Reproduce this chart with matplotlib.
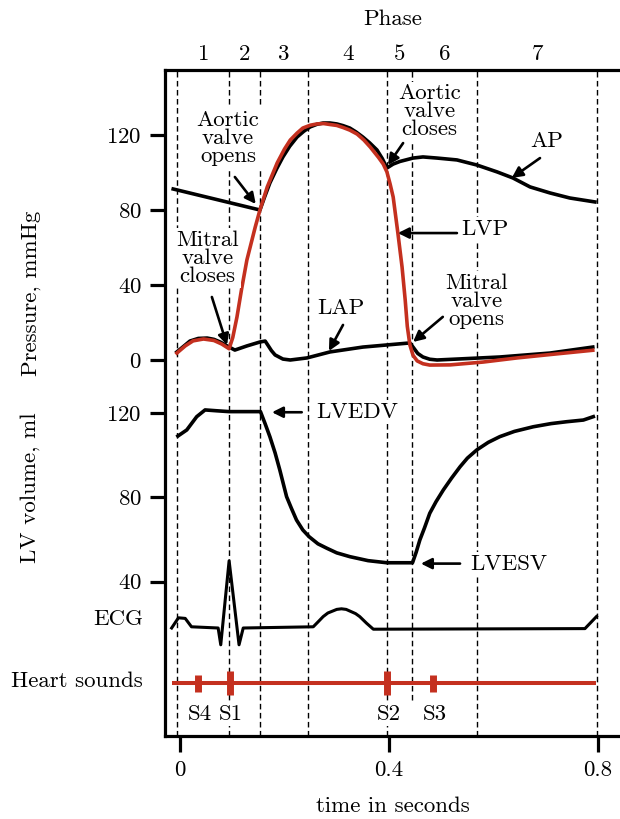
import matplotlib.pyplot as plt

plt.rcParams['font.family'] = 'cmr10'
plt.rcParams['mathtext.fontset'] = 'cm'
plt.rcParams['axes.formatter.use_mathtext'] = True
plt.rcParams['font.size'] = 16.5

# ---- data ----
phase_bounds = [-0.005, 0.094, 0.154, 0.245, 0.397, 0.444, 0.568, 0.799]
phase_labels = ['1', '2', '3', '4', '5', '6', '7']

# aortic pressure (mmHg)
ap_t = [-0.013, 0.153, 0.162, 0.172, 0.185, 0.197, 0.210, 0.224, 0.237, 0.249,
        0.262, 0.274, 0.287, 0.300, 0.312, 0.325, 0.337, 0.350, 0.363, 0.377,
        0.387, 0.396, 0.408, 0.421, 0.446, 0.465, 0.492, 0.530, 0.568, 0.607,
        0.637, 0.670, 0.708, 0.746, 0.794]
ap_p = [91.2, 80.0, 87.0, 94.4, 102.0, 108.3, 114.0, 118.9, 122.0, 124.3,
        125.7, 126.4, 126.4, 125.9, 125.0, 123.7, 121.6, 118.9, 115.8, 112.0,
        107.5, 102.4, 104.5, 105.9, 107.7, 108.3, 107.7, 106.7, 104.0, 100.3,
        97.1, 92.3, 89.1, 86.4, 84.3]

# left ventricular pressure (mmHg)
lvp_t = [-0.006, 0.010, 0.025, 0.045, 0.065, 0.080, 0.094, 0.101, 0.109, 0.118,
         0.128, 0.144, 0.153, 0.167, 0.186, 0.200, 0.211, 0.224, 0.235, 0.249,
         0.262, 0.275, 0.287, 0.300, 0.312, 0.325, 0.339, 0.352, 0.364, 0.380,
         0.389, 0.396, 0.402, 0.408, 0.417, 0.425, 0.431, 0.435, 0.440, 0.446,
         0.454, 0.465, 0.478, 0.517, 0.580, 0.645, 0.708, 0.790]
lvp_p = [3.7, 7.5, 10.2, 11.2, 10.4, 8.5, 6.0, 12.0, 22.9, 38.0,
         53.3, 70.9, 80.0, 92.3, 105.1, 112.5, 117.3, 121.0, 123.7, 125.2,
         125.9, 126.1, 125.6, 125.1, 124.0, 122.6, 120.5, 117.3, 113.6, 108.0,
         104.5, 100.3, 94.0, 86.9, 67.7, 49.6, 32.0, 18.0, 8.0, 2.5,
         -0.5, -2.0, -2.7, -2.6, -1.1, 1.1, 2.9, 5.2]

# left atrial pressure (mmHg)
lap_t = [-0.006, 0.010, 0.019, 0.035, 0.052, 0.065, 0.077, 0.094, 0.105, 0.128,
         0.153, 0.163, 0.168, 0.175, 0.182, 0.197, 0.211, 0.243, 0.287, 0.350,
         0.440, 0.446, 0.455, 0.465, 0.478, 0.492, 0.530, 0.612, 0.708, 0.790]
lap_p = [4.3, 8.0, 10.1, 11.5, 11.7, 11.0, 9.6, 6.9, 5.3, 7.5,
         9.6, 10.1, 8.0, 5.0, 2.7, 0.5, 0.0, 1.1, 4.3, 6.9,
         9.1, 6.9, 3.5, 1.6, 0.4, 0.0, 0.5, 1.6, 3.7, 6.9]

# LV volume (ml)
vol_t = [-0.004, 0.013, 0.032, 0.048, 0.070, 0.094, 0.154, 0.163, 0.172, 0.182,
         0.191, 0.204, 0.213, 0.223, 0.235, 0.247, 0.264, 0.281, 0.300, 0.325,
         0.360, 0.396, 0.445, 0.452, 0.459, 0.468, 0.478, 0.490, 0.504, 0.520,
         0.536, 0.550, 0.568, 0.590, 0.612, 0.640, 0.676, 0.710, 0.740, 0.772,
         0.791]
vol_v = [109.2, 112.1, 118.4, 121.6, 121.2, 120.8, 120.8, 115.0, 108.9, 101.2,
         93.1, 80.4, 75.0, 69.3, 64.6, 61.4, 58.0, 55.9, 53.7, 51.9,
         50.0, 49.0, 49.0, 54.0, 59.8, 65.6, 72.5, 78.0, 83.6, 89.3,
         94.6, 98.7, 102.6, 106.2, 108.9, 111.4, 113.6, 115.1, 116.0, 116.8,
         118.4]

# ECG (arbitrary units)
ecg_t = [-0.016, -0.003, 0.010, 0.022, 0.073, 0.078, 0.094, 0.113, 0.121, 0.255,
         0.264, 0.274, 0.283, 0.300, 0.309, 0.318, 0.336, 0.344, 0.357, 0.370,
         0.775, 0.797]
ecg_v = [0.0, 0.17, 0.16, 0.02, 0.0, -0.28, 1.12, -0.28, 0.0, 0.02,
         0.10, 0.19, 0.25, 0.31, 0.32, 0.31, 0.24, 0.19, 0.08, -0.02,
         -0.01, 0.19]

# heart sounds
sound_names = ['S4', 'S1', 'S2', 'S3']
sound_t = [0.035, 0.095, 0.396, 0.484]
sound_amp = [0.7, 1.0, 1.0, 0.7]
sound_span = [-0.016, 0.797]

red = '#c4301f'
W, H = 620, 819
X0, X1 = 165, 620
xlim = (-0.0287, 0.8421)
LW = 2.6


def overlay(top, bottom, ref_px, ref_val, px_per_unit):
    ax = fig.add_axes([X0 / W, 1 - bottom / H, (X1 - X0) / W, (bottom - top) / H])
    ax.set_xlim(xlim)
    ax.set_ylim(ref_val - (bottom - ref_px) / px_per_unit,
                ref_val + (ref_px - top) / px_per_unit)
    ax.patch.set_visible(False)
    for s in ax.spines.values():
        s.set_visible(False)
    ax.set_xticks([])
    ax.set_yticks([])
    return ax


fig = plt.figure(figsize=(6.2, 8.19), dpi=100)

# outer frame with time axis and phase boundaries
frame = fig.add_axes([X0 / W, 1 - 736 / H, (X1 - X0) / W, (736 - 70) / H])
frame.set_xlim(xlim)
frame.set_ylim(0, 1)
frame.spines['right'].set_visible(False)
for s in ['left', 'top', 'bottom']:
    frame.spines[s].set_linewidth(2.3)
frame.set_yticks([])
frame.set_xticks([0, 0.4, 0.8], ['0', '0.4', '0.8'])
frame.tick_params(axis='x', direction='out', length=11.5, width=2.3, pad=6)
frame.set_xlabel('time in seconds', labelpad=12)
for i, b in enumerate(phase_bounds):
    ymin = 0.054 if i == 5 else 0
    frame.axvline(b, ymin=ymin, ymax=1, color='black', lw=1.0,
                  linestyle=(0, (4, 2.5)))

mids = [(a + b) / 2 for a, b in zip(phase_bounds[:-1], phase_bounds[1:])]
top = frame.secondary_xaxis('top')
top.set_xticks(mids, phase_labels)
top.tick_params(length=0, pad=4)
top.spines['top'].set_visible(False)
top.set_xlabel('Phase', labelpad=14)

box = dict(facecolor='white', edgecolor='none', pad=1.5)
arrow = dict(arrowstyle='-|>', color='black', lw=1.9, mutation_scale=16,
             shrinkA=0, shrinkB=0)


def label(ax, txt, pos, ha='center'):
    ax.text(pos[0], pos[1], txt, ha=ha, va='center', linespacing=0.9, bbox=box)


def pointer(ax, tail, head):
    ax.annotate('', xy=head, xytext=tail, arrowprops=arrow)


# pressures
pax = overlay(70, 380, 360, 0, 1.875)
pax.set_yticks([0, 40, 80, 120])
pax.tick_params(axis='y', direction='out', length=10.8, width=2.3, pad=6)
pax.plot(ap_t, ap_p, color='black', lw=LW, solid_joinstyle='round')
pax.plot(lap_t, lap_p, color='black', lw=LW, solid_joinstyle='round')
pax.plot(lvp_t, lvp_p, color=red, lw=LW, solid_joinstyle='round')

label(pax, 'Aortic\nvalve\nopens', (0.092, 118.5))
pointer(pax, (0.105, 97.6), (0.145, 83.2))
label(pax, 'Mitral\nvalve\ncloses', (0.052, 54.4))
pointer(pax, (0.061, 33.6), (0.090, 8.0))
label(pax, 'LAP', (0.308, 27.7))
pointer(pax, (0.312, 18.7), (0.285, 4.8))
label(pax, 'Aortic\nvalve\ncloses', (0.477, 132.5))
pointer(pax, (0.427, 115.7), (0.398, 104.0))
label(pax, 'AP', (0.702, 116.8))
pointer(pax, (0.689, 107.7), (0.635, 97.1))
label(pax, 'LVP', (0.583, 69.9))
pointer(pax, (0.530, 67.7), (0.417, 67.7))
label(pax, 'Mitral\nvalve\nopens', (0.568, 31.5))
pointer(pax, (0.503, 23.0), (0.446, 9.6))

# volume
vax = overlay(395, 600, 413.3, 120, 2.105)
vax.set_yticks([40, 80, 120])
vax.tick_params(axis='y', direction='out', length=10.8, width=2.3, pad=6)
vax.plot(vol_t, vol_v, color='black', lw=LW, solid_joinstyle='round')
label(vax, 'LVEDV', (0.260, 120.6), ha='left')
pointer(vax, (0.233, 120.5), (0.176, 120.5))
label(vax, 'LVESV', (0.555, 48.4), ha='left')
pointer(vax, (0.536, 48.6), (0.461, 48.6))

# ECG
eax = overlay(550, 660, 628, 0, 60)
eax.set_yticks([0.18], ['ECG'])
eax.tick_params(axis='y', length=0, pad=16)
eax.plot(ecg_t, ecg_v, color='black', lw=2.2, solid_joinstyle='round')

# heart sounds
hax = overlay(660, 736, 683.3, 0, 12)
hax.set_yticks([0.3], ['Heart sounds'])
hax.tick_params(axis='y', length=0, pad=16)
hax.plot(sound_span, [0, 0], color=red, lw=2.9, solid_capstyle='butt')
hax.vlines(sound_t, [-a for a in sound_amp], sound_amp, color=red, lw=5,
           capstyle='butt')
for name, t in zip(sound_names, sound_t):
    hax.text(t + 0.003, -2.55, name, ha='center', va='center', bbox=box)

fig.text(31 / W, 1 - 293 / H, 'Pressure, mmHg', rotation=90, ha='center',
         va='center')
fig.text(30 / W, 1 - 488 / H, 'LV volume, ml', rotation=90, ha='center',
         va='center')

fig.savefig('out.png', dpi=100)
